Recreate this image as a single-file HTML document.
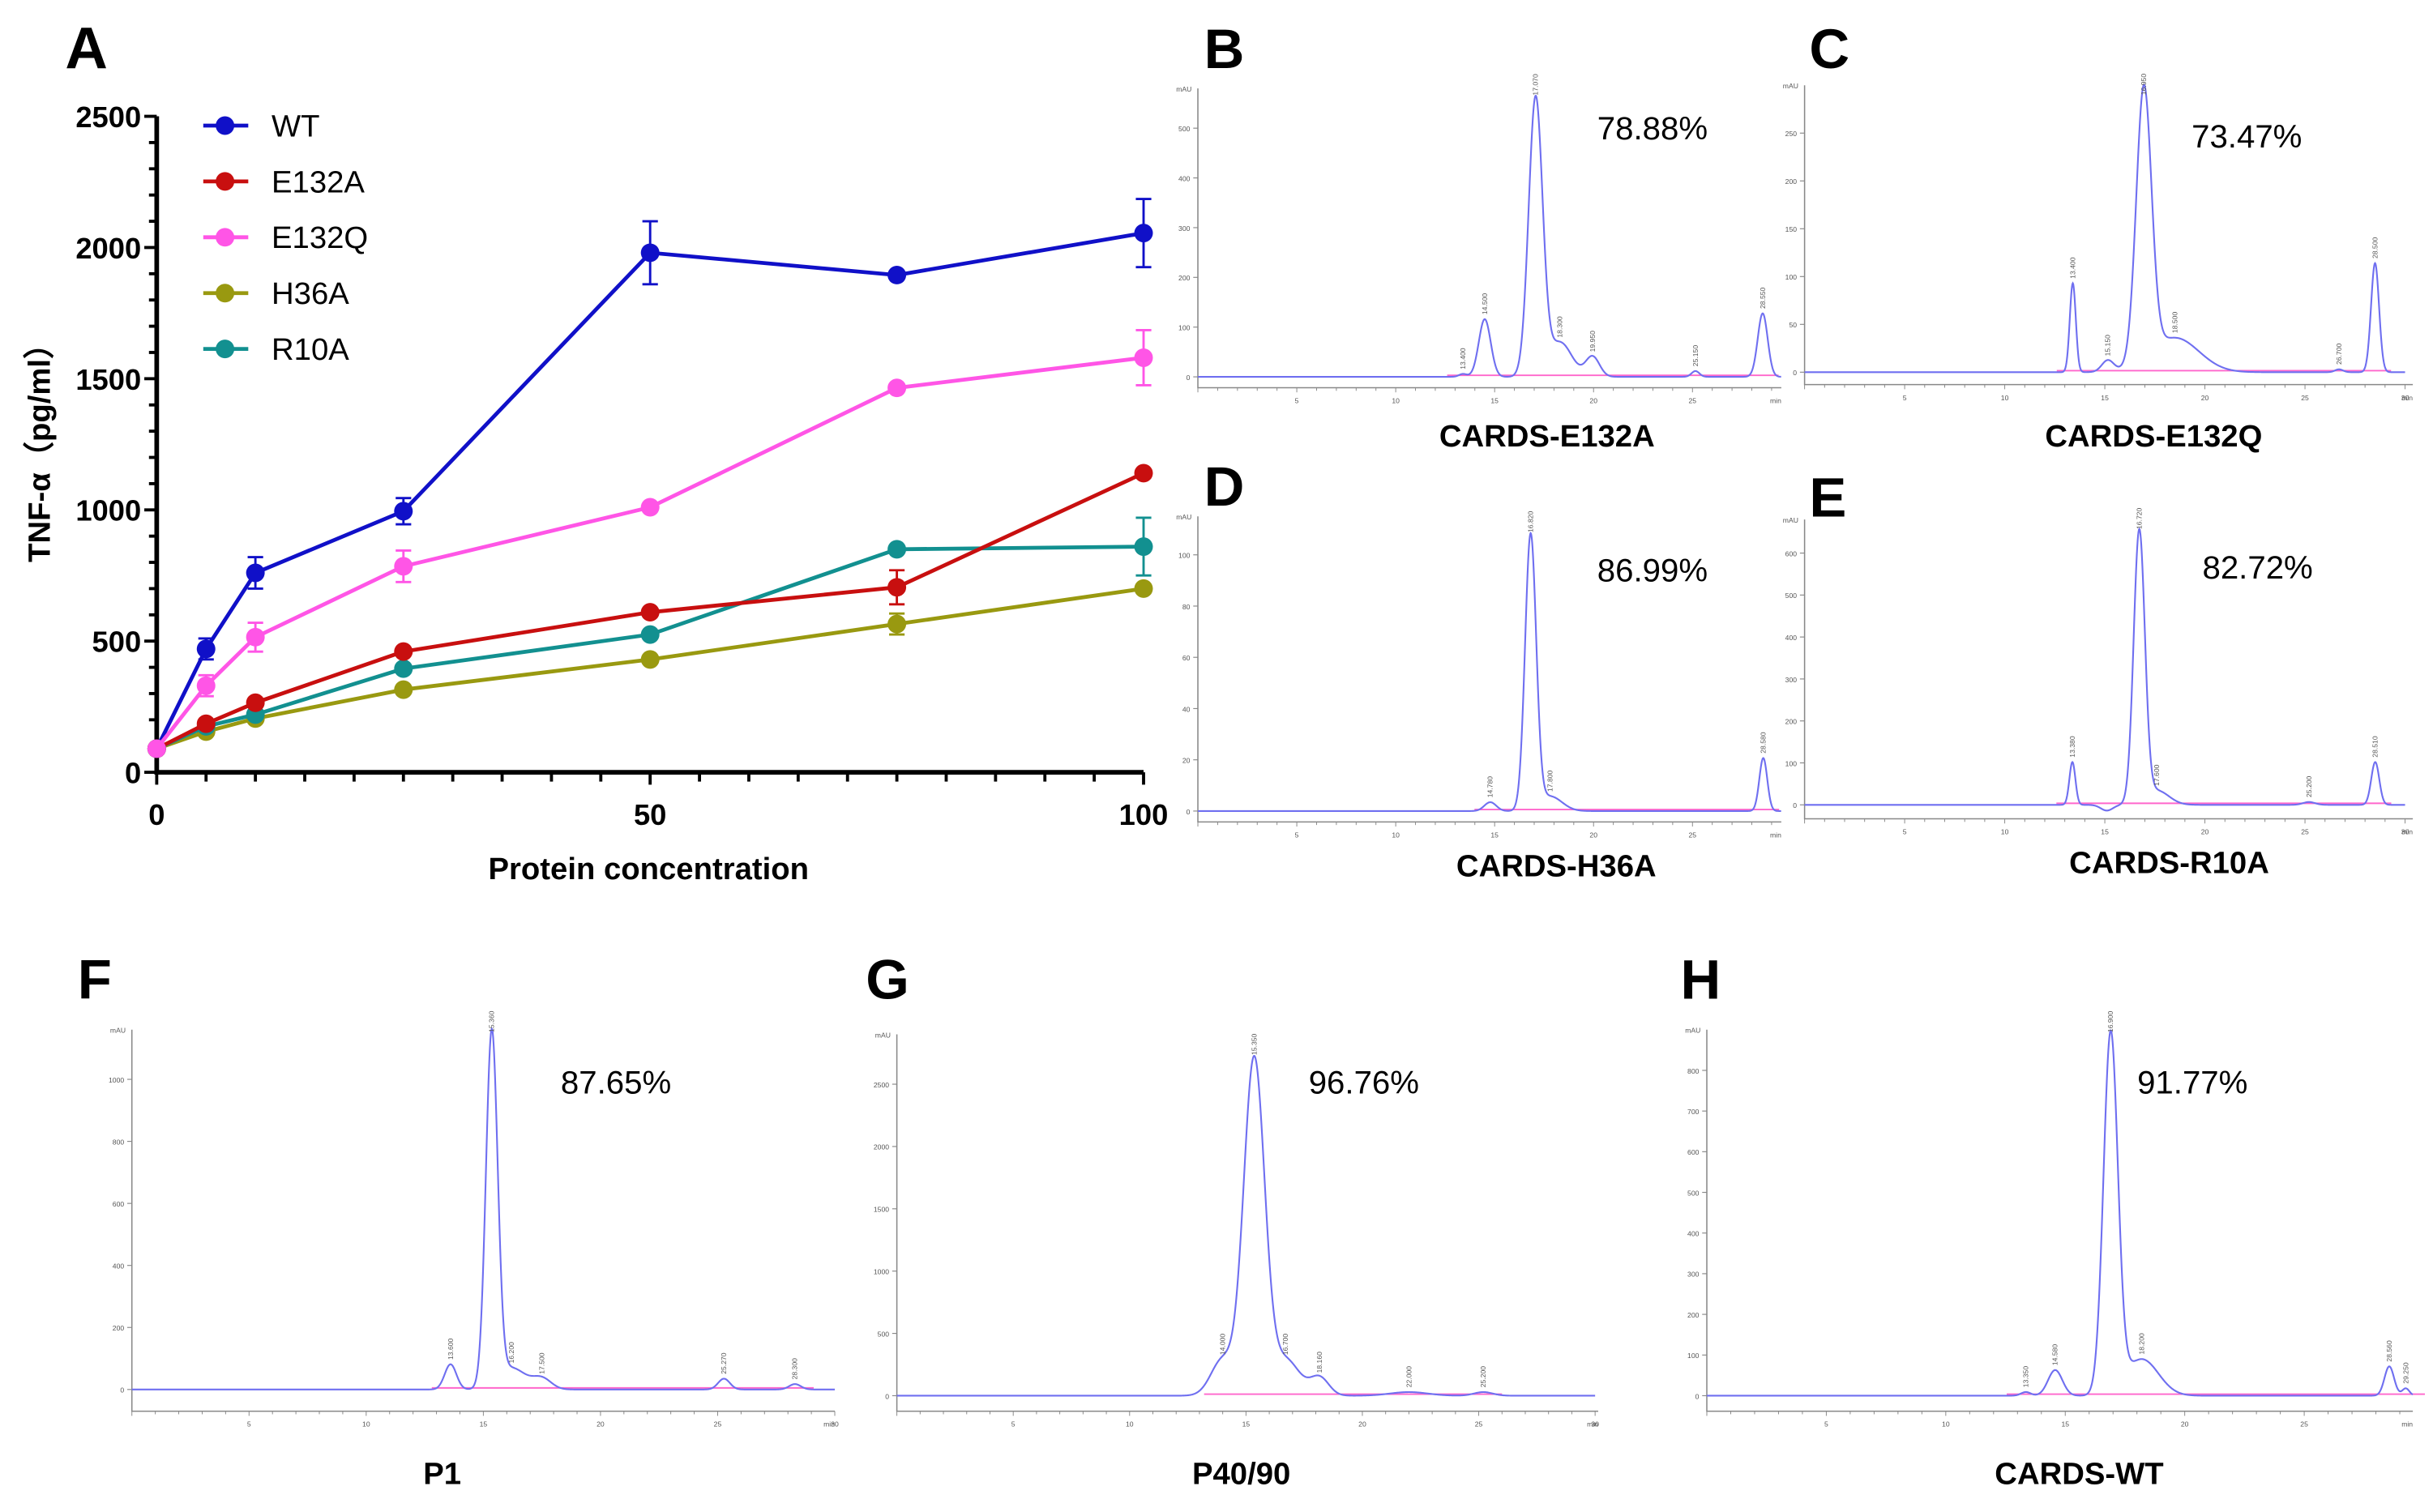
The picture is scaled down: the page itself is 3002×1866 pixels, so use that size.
<!DOCTYPE html>
<html><head><meta charset="utf-8">
<style>
html,body{margin:0;padding:0;background:#fff;}
svg{display:block;font-family:"Liberation Sans",Arial,sans-serif;}
</style></head>
<body>
<svg id="fig" width="3002" height="1866" viewBox="0 0 1568 975" preserveAspectRatio="none" xmlns="http://www.w3.org/2000/svg">
<g id="panelA"></g>
<g id="chroms"></g>
</svg>
<script>
// ---------- Panel A data ----------
const concentrations = [0, 5, 10, 25, 50, 75, 100];
const seriesNames = ["WT", "E132A", "E132Q", "H36A", "R10A"];
const seriesColors = ["#1010c8", "#c80f0f", "#ff55e6", "#999910", "#129090"];
const wtValues    = [90, 470, 760, 995, 1980, 1895, 2055];
const e132aValues = [90, 185, 265, 460, 610, 705, 1140];
const e132qValues = [90, 330, 515, 785, 1010, 1465, 1580];
const h36aValues  = [90, 155, 205, 315, 430, 565, 700];
const r10aValues  = [90, 175, 220, 395, 525, 850, 860];
const wtErr    = [0, 40, 60, 50, 120, 0, 130];
const e132aErr = [0, 0, 0, 0, 0, 65, 0];
const e132qErr = [0, 40, 55, 60, 0, 0, 105];
const h36aErr  = [0, 0, 0, 0, 0, 40, 0];
const r10aErr  = [0, 0, 0, 0, 0, 0, 110];
const yTicks = [0, 500, 1000, 1500, 2000, 2500];
const xTicks = [0, 50, 100];

// ---------- Chromatogram data (retention min, relative height, width min) ----------
const bTimes=[13.4,14.5,17.07,18.3,19.95,25.15,28.55], bHeights=[0.01,0.2,0.96,0.12,0.07,0.02,0.22], bWidths=[0.2,0.3,0.35,0.6,0.35,0.2,0.25];
const cTimes=[13.4,15.15,16.95,18.5,26.7,28.5], cHeights=[0.31,0.04,0.95,0.12,0.01,0.38], cWidths=[0.15,0.3,0.38,1.2,0.2,0.2];
const dTimes=[14.78,16.82,17.8,28.58], dHeights=[0.03,0.93,0.05,0.18], dWidths=[0.3,0.28,0.6,0.2];
const eTimes=[13.38,15.1,16.72,17.6,25.2,28.51], eHeights=[0.15,-0.02,0.95,0.05,0.01,0.15], eWidths=[0.15,0.3,0.28,0.6,0.3,0.2];
const fTimes=[13.6,15.36,16.2,17.5,25.27,28.3], fHeights=[0.07,0.98,0.06,0.03,0.03,0.015], fWidths=[0.25,0.25,0.6,0.4,0.25,0.25];
const gTimes=[14.0,15.35,16.7,18.16,22.0,25.2], gHeights=[0.1,0.93,0.1,0.05,0.01,0.01], gWidths=[0.5,0.45,0.6,0.4,0.8,0.4];
const hTimes=[13.35,14.58,16.9,18.2,28.56,29.25], hHeights=[0.01,0.07,0.98,0.1,0.08,0.02], hWidths=[0.2,0.3,0.3,0.7,0.2,0.15];
const percents=["78.88%","73.47%","86.99%","82.72%","87.65%","96.76%","91.77%"];

const NS="http://www.w3.org/2000/svg";
function mk(parent, tag, attrs){const e=document.createElementNS(NS,tag);for(const k in attrs)e.setAttribute(k,attrs[k]);parent.appendChild(e);return e;}
function txt(parent, s, attrs){const e=mk(parent,"text",attrs);e.textContent=s;return e;}

// ---------- Panel A ----------
const A=document.getElementById("panelA");
const x0=101, x1=737, y0=498, y1=75;
const xs=v=>x0+(v/100)*(x1-x0);
const ys=v=>y0-(v/2500)*(y0-y1);
let t=txt(A,"A",{x:42,y:44,"font-size":38,"font-weight":"bold"});


let ax=mk(A,"path",{d:`M${x0},${y1} V${y0} H${x1}`,stroke:"#000","stroke-width":3,fill:"none"});


for(let v=0;v<=2500;v+=100){const big=v%500===0;mk(A,"line",{x1:x0-(big?8:5),x2:x0,y1:ys(v),y2:ys(v),stroke:"#000","stroke-width":2});}
for(let v=0;v<=100;v+=5){const big=v%50===0;mk(A,"line",{x1:xs(v),x2:xs(v),y1:y0,y2:y0+(big?8:6),stroke:"#000","stroke-width":2});}
yTicks.forEach(v=>{const e=txt(A,String(v),{x:x0-10,y:ys(v)+7,"text-anchor":"end","font-size":19,"font-weight":"bold"});

});
xTicks.forEach(v=>{const e=txt(A,String(v),{x:xs(v),y:532,"text-anchor":"middle","font-size":19,"font-weight":"bold"});

});
t=txt(A,"Protein concentration",{x:418,y:567,"text-anchor":"middle","font-size":20,"font-weight":"bold"});


t=txt(A,"TNF-α（pg/ml）",{x:0,y:0,"text-anchor":"middle","font-size":20,"font-weight":"bold",transform:"translate(32,287) rotate(-90)"});


const allVals=[wtValues,e132aValues,e132qValues,h36aValues,r10aValues];
const allErr=[wtErr,e132aErr,e132qErr,h36aErr,r10aErr];
const order=[3,4,0,1,2];
order.forEach(i=>{
  const g=mk(A,"g",{});
  
  
  const col=seriesColors[i], vals=allVals[i], err=allErr[i];
  mk(g,"polyline",{points:vals.map((v,j)=>xs(concentrations[j])+","+ys(v)).join(" "),fill:"none",stroke:col,"stroke-width":2.5});
  vals.forEach((v,j)=>{
    const cx=xs(concentrations[j]);
    if(err[j]>0){mk(g,"path",{d:`M${cx},${ys(v+err[j])}V${ys(v-err[j])}M${cx-5},${ys(v+err[j])}h10M${cx-5},${ys(v-err[j])}h10`,stroke:col,"stroke-width":1.5,fill:"none"});}
    const c=mk(g,"circle",{cx:cx,cy:ys(v),r:6,fill:col});
    
    
  });
});
seriesNames.forEach((n,i)=>{
  const g=mk(A,"g",{});
  
  
  const ly=81+i*36;
  mk(g,"line",{x1:131,x2:160,y1:ly,y2:ly,stroke:seriesColors[i],"stroke-width":2.5});
  mk(g,"circle",{cx:145,cy:ly,r:6,fill:seriesColors[i]});
  txt(g,n,{x:175,y:ly+7,"font-size":20});
});

// ---------- Chromatograms ----------
const C=document.getElementById("chroms");
const panels=[
 {L:"B",lx:776,ly:44,ax:772,axEnd:1148,top:57,base:243,bot:250,ppm:12.75,times:bTimes,h:bHeights,w:bWidths,px:1065,py:90,label:"CARDS-E132A",cx:997,cy:288,yt:["0","100","200","300","400","500"],ymax:580},
 {L:"C",lx:1166,ly:44,ax:1163,axEnd:1555,top:55,base:240,bot:248,ppm:12.9,times:cTimes,h:cHeights,w:cWidths,px:1448,py:95,label:"CARDS-E132Q",cx:1388,cy:288,yt:["0","50","100","150","200","250"],ymax:300},
 {L:"D",lx:776,ly:326,ax:772,axEnd:1148,top:333,base:523,bot:530,ppm:12.75,times:dTimes,h:dHeights,w:dWidths,px:1065,py:375,label:"CARDS-H36A",cx:1003,cy:565,yt:["0","20","40","60","80","100"],ymax:115},
 {L:"E",lx:1166,ly:333,ax:1163,axEnd:1555,top:335,base:519,bot:528,ppm:12.9,times:eTimes,h:eHeights,w:eWidths,px:1455,py:373,label:"CARDS-R10A",cx:1398,cy:563,yt:["0","100","200","300","400","500","600"],ymax:680},
 {L:"F",lx:50,ly:644,ax:85,axEnd:538,top:664,base:896,bot:910,ppm:15.1,times:fTimes,h:fHeights,w:fWidths,px:397,py:705,label:"P1",cx:285,cy:957,yt:["0","200","400","600","800","1000"],ymax:1160},
 {L:"G",lx:558,ly:644,ax:578,axEnd:1030,top:667,base:900,bot:910,ppm:15.0,times:gTimes,h:gHeights,w:gWidths,px:879,py:705,label:"P40/90",cx:800,cy:957,yt:["0","500","1000","1500","2000","2500"],ymax:2900},
 {L:"H",lx:1083,ly:644,ax:1100,axEnd:1555,top:664,base:900,bot:910,ppm:15.4,times:hTimes,h:hHeights,w:hWidths,px:1413,py:705,label:"CARDS-WT",cx:1340,cy:957,yt:["0","100","200","300","400","500","600","700","800"],ymax:900}
];
panels.forEach((p,pi)=>{
  const g=mk(C,"g",{});
  
  
  let e=txt(g,p.L,{x:p.lx,y:p.ly,"font-size":36,"font-weight":"bold"});
  
  
  mk(g,"path",{d:`M${p.ax},${p.top} V${p.bot} H${p.axEnd}`,stroke:"#888","stroke-width":0.8,fill:"none"});
  const H=p.base-p.top;
  p.yt.forEach((s,k)=>{const v=+s;const yy=p.base-v/p.ymax*H;mk(g,"line",{x1:p.ax-3,x2:p.ax,y1:yy,y2:yy,stroke:"#888","stroke-width":0.6});
    txt(g,s,{x:p.ax-5,y:yy+2,"text-anchor":"end","font-size":4.5,fill:"#555"});});
  txt(g,"mAU",{x:p.ax-4,y:p.top+2,"text-anchor":"end","font-size":4.5,fill:"#555"});
  for(let m=0;m<=30;m++){const xx=p.ax+m*p.ppm;if(xx>p.axEnd)break;mk(g,"line",{x1:xx,x2:xx,y1:p.bot,y2:p.bot+(m%5===0?3:2),stroke:"#888","stroke-width":0.5});
    if(m%5===0&&m>0)txt(g,String(m),{x:xx,y:p.bot+10,"text-anchor":"middle","font-size":4.5,fill:"#555"});}
  txt(g,"min",{x:p.axEnd,y:p.bot+10,"text-anchor":"end","font-size":4.5,fill:"#555"});
  const tStart=p.times[0]-0.8, tEnd=p.times[p.times.length-1]+0.8;
  mk(g,"line",{x1:p.ax+tStart*p.ppm,x2:p.ax+tEnd*p.ppm,y1:p.base-1,y2:p.base-1,stroke:"#ff66cc","stroke-width":1});
  let pts=[];
  for(let tm=0;tm<=30;tm+=0.02){const xx=p.ax+tm*p.ppm;if(xx>p.axEnd)break;
    let s=0;for(let k=0;k<p.times.length;k++){const d=(tm-p.times[k])/p.w[k];s+=p.h[k]*Math.exp(-0.5*d*d);}
    pts.push(xx.toFixed(2)+","+(p.base-s*H).toFixed(2));}
  e=mk(g,"polyline",{points:pts.join(" "),fill:"none",stroke:"#6f6ff0","stroke-width":1.1});
  
  
  p.times.forEach((tm,k)=>{if(p.h[k]<=0)return;const xx=p.ax+tm*p.ppm;const yy=p.base-p.h[k]*H-3;
    txt(g,tm.toFixed(3),{x:0,y:0,"font-size":4.5,fill:"#555",transform:`translate(${xx+1.5},${yy}) rotate(-90)`});});
  e=txt(g,percents[pi],{x:p.px,y:p.py,"text-anchor":"middle","font-size":21});
  
  
  e=txt(g,p.label,{x:p.cx,y:p.cy,"text-anchor":"middle","font-size":20,"font-weight":"bold"});
  
  
});
</script>
</body></html>
